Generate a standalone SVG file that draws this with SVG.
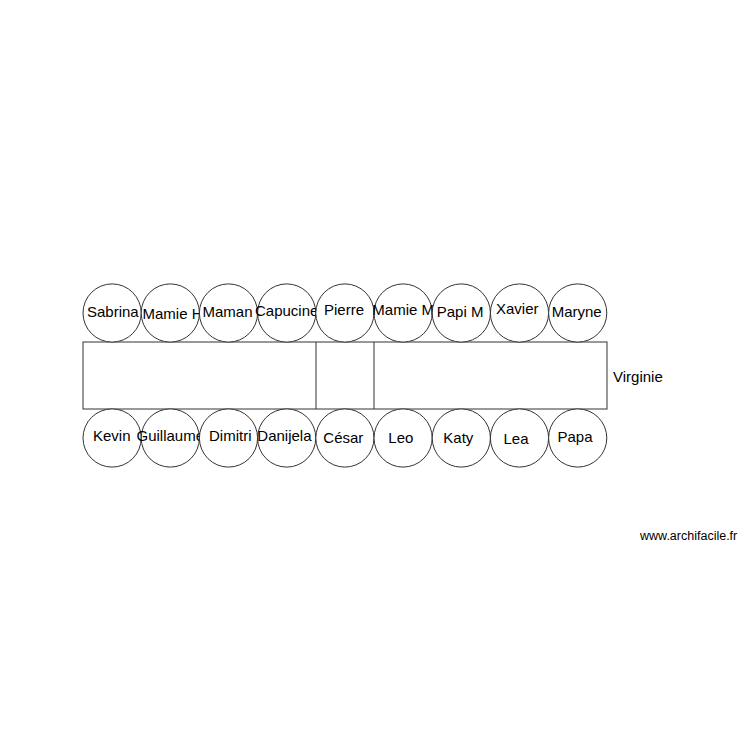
<svg xmlns="http://www.w3.org/2000/svg" width="750" height="750" viewBox="0 0 750 750">
<style>
.s{fill:#fff;stroke:#333;stroke-width:1}
.t{font-family:"Liberation Sans",Arial,sans-serif;font-size:15px;fill:#000}
.w{font-family:"Liberation Sans",Arial,sans-serif;font-size:12.5px;fill:#000}
</style>
<rect width="750" height="750" fill="#fff"/>
<g id="table">
<rect class="s" x="83" y="342" width="524" height="67"/>
<line class="s" x1="316" y1="342" x2="316" y2="409"/>
<line class="s" x1="374" y1="342" x2="374" y2="409"/>
</g>
<g id="Sabrina"><circle class="s" cx="112.1" cy="313" r="29.1"/><text class="t" x="87" y="317.3">Sabrina</text></g>
<g id="MamieH"><circle class="s" cx="170.3" cy="313" r="29.1"/><text class="t" x="142.5" y="319.3">Mamie H</text></g>
<g id="Maman"><circle class="s" cx="228.5" cy="313" r="29.1"/><text class="t" x="202.5" y="317.3">Maman</text></g>
<g id="Capucine"><circle class="s" cx="286.7" cy="313" r="29.1"/><text class="t" x="255" y="316.3">Capucine</text></g>
<g id="Pierre"><circle class="s" cx="344.9" cy="313" r="29.1"/><text class="t" x="324" y="315.3">Pierre</text></g>
<g id="MamieM"><circle class="s" cx="403.1" cy="313" r="29.1"/><text class="t" x="372.3" y="315.3">Mamie M</text></g>
<g id="PapiM"><circle class="s" cx="461.3" cy="313" r="29.1"/><text class="t" x="436.7" y="317.3">Papi M</text></g>
<g id="Xavier"><circle class="s" cx="519.5" cy="313" r="29.1"/><text class="t" x="496" y="314.3">Xavier</text></g>
<g id="Maryne"><circle class="s" cx="577.7" cy="313" r="29.1"/><text class="t" x="551.7" y="317.3">Maryne</text></g>
<g id="Kevin"><circle class="s" cx="112.1" cy="438" r="29.1"/><text class="t" x="93" y="441">Kevin</text></g>
<g id="Guillaume"><circle class="s" cx="170.3" cy="438" r="29.1"/><text class="t" x="136.5" y="441">Guillaume</text></g>
<g id="Dimitri"><circle class="s" cx="228.5" cy="438" r="29.1"/><text class="t" x="209" y="441">Dimitri</text></g>
<g id="Danijela"><circle class="s" cx="286.7" cy="438" r="29.1"/><text class="t" x="257.3" y="440.5">Danijela</text></g>
<g id="Cesar"><circle class="s" cx="344.9" cy="438" r="29.1"/><text class="t" x="323.3" y="443.3">César</text></g>
<g id="Leo"><circle class="s" cx="403.1" cy="438" r="29.1"/><text class="t" x="388.3" y="443">Leo</text></g>
<g id="Katy"><circle class="s" cx="461.3" cy="438" r="29.1"/><text class="t" x="443.3" y="442.7">Katy</text></g>
<g id="Lea"><circle class="s" cx="519.5" cy="438" r="29.1"/><text class="t" x="503.5" y="444">Lea</text></g>
<g id="Papa"><circle class="s" cx="577.7" cy="438" r="29.1"/><text class="t" x="557.5" y="441.7">Papa</text></g>
<g id="Virginie"><text class="t" x="613" y="382.3">Virginie</text></g>
<g id="connectors"></g>
<text class="w" x="640" y="540">www.archifacile.fr</text>
</svg>
